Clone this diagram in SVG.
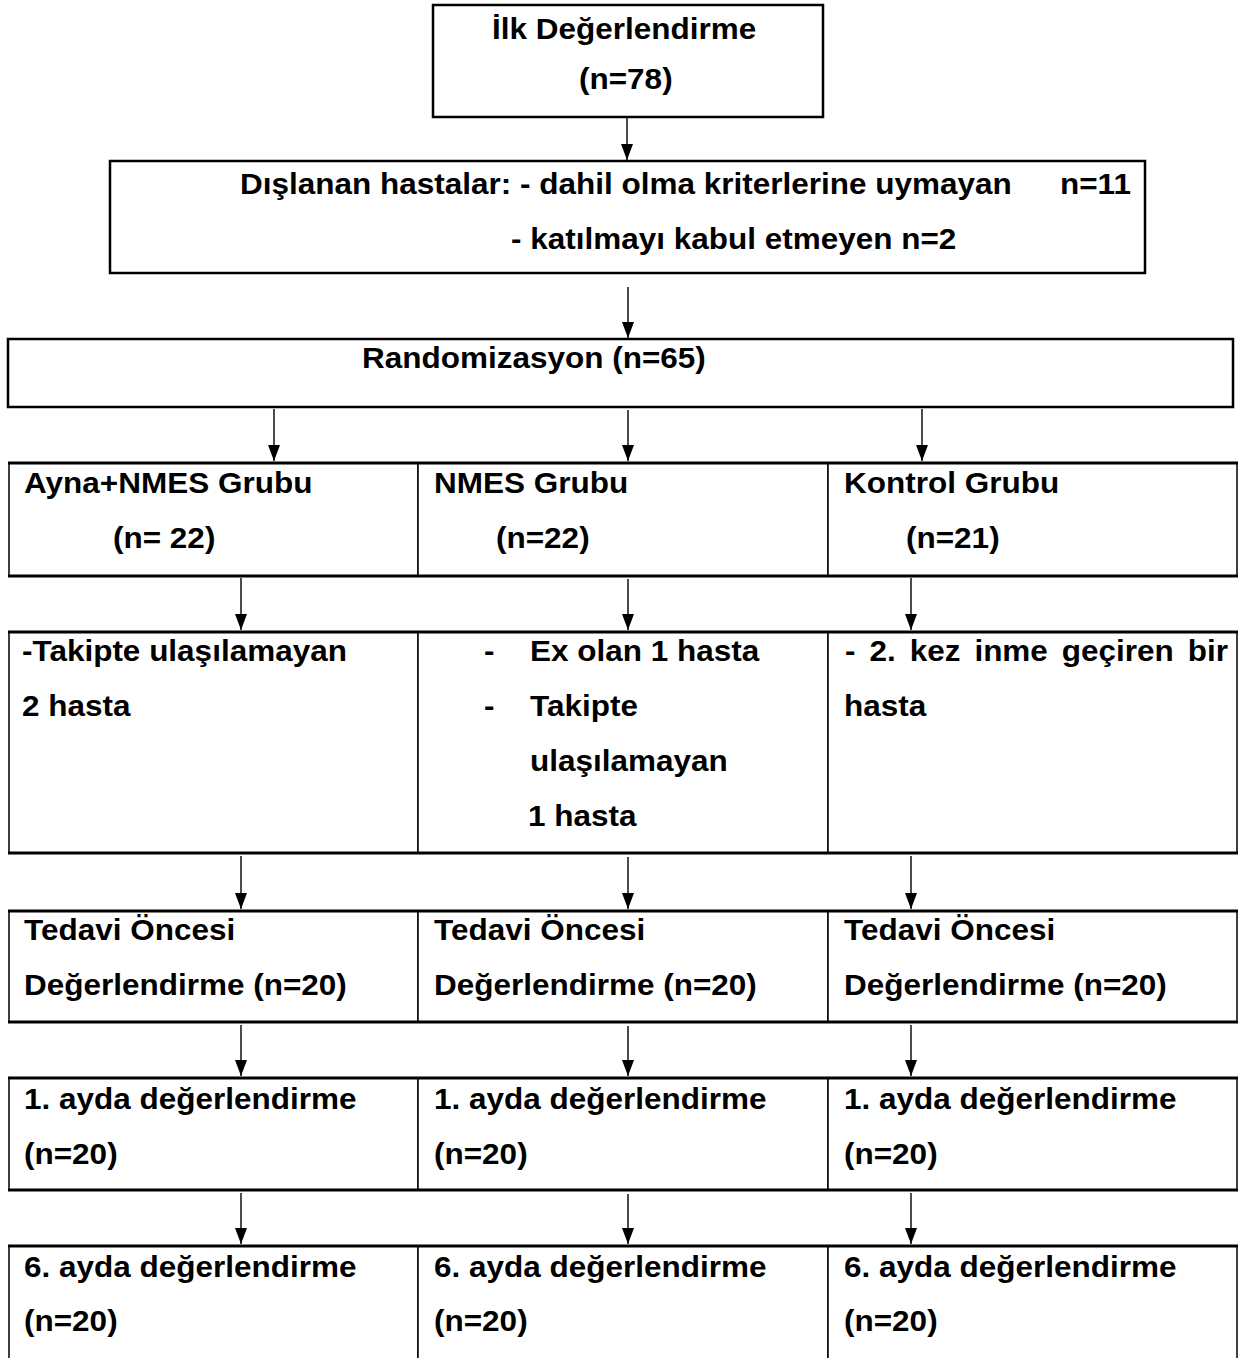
<svg xmlns="http://www.w3.org/2000/svg" width="1245" height="1358" viewBox="0 0 1245 1358">
<style>
  .t { font-family: "Liberation Sans", Arial, sans-serif; font-weight: bold; font-size: 29px; fill: #000; }
  .box { fill: #fff; stroke: #000; stroke-width: 2.5; }
  .cell { fill: #fff; stroke: #000; stroke-width: 1.5; }
  .hb { stroke: #000; stroke-width: 3; fill: none; }
  .arr { stroke: #000; stroke-width: 1.4; fill: none; marker-end: url(#ah); }
</style>
<defs>
  <marker id="ah" markerUnits="userSpaceOnUse" markerWidth="16" markerHeight="13" refX="16" refY="6.5" orient="auto">
    <path d="M0,0.5 L16,6.5 L0,12.5 z" fill="#000"/>
  </marker>
</defs>
<rect width="1245" height="1358" fill="#fff"/>

<g id="ilk">
  <rect class="box" x="433" y="5" width="390" height="112"/>
  <text class="t" transform="translate(492,39) scale(1.086,1)">İlk Değerlendirme</text>
  <text class="t" transform="translate(579,89) scale(1.086,1)">(n=78)</text>
</g>

<g id="dislanan">
  <rect class="box" x="110" y="161" width="1035" height="112"/>
  <text class="t" transform="translate(240,194) scale(1.086,1)">Dışlanan hastalar: - dahil olma kriterlerine uymayan</text>
  <text class="t" transform="translate(1060,194) scale(1.086,1)">n=11</text>
  <text class="t" transform="translate(511,249) scale(1.086,1)">- katılmayı kabul etmeyen n=2</text>
</g>

<g id="randomizasyon">
  <rect class="box" x="8" y="339" width="1225" height="68"/>
  <text class="t" transform="translate(362,368) scale(1.086,1)">Randomizasyon (n=65)</text>
</g>

<!-- Group row -->
<g id="grup-ayna">
  <rect class="cell" x="9" y="463" width="409" height="113"/>
  <text class="t" transform="translate(24,493) scale(1.086,1)">Ayna+NMES Grubu</text>
  <text class="t" transform="translate(113,548) scale(1.086,1)">(n= 22)</text>
</g>
<g id="grup-nmes">
  <rect class="cell" x="418" y="463" width="410" height="113"/>
  <text class="t" transform="translate(434,493) scale(1.086,1)">NMES Grubu</text>
  <text class="t" transform="translate(496,548) scale(1.086,1)">(n=22)</text>
</g>
<g id="grup-kontrol">
  <rect class="cell" x="828" y="463" width="409" height="113"/>
  <text class="t" transform="translate(844,493) scale(1.086,1)">Kontrol Grubu</text>
  <text class="t" transform="translate(906,548) scale(1.086,1)">(n=21)</text>
</g>

<!-- Dropout row -->
<g id="kayip-ayna">
  <rect class="cell" x="9" y="632" width="409" height="221"/>
  <text class="t" transform="translate(22,661) scale(1.086,1)">-Takipte ulaşılamayan</text>
  <text class="t" transform="translate(22,716) scale(1.086,1)">2 hasta</text>
</g>
<g id="kayip-nmes">
  <rect class="cell" x="418" y="632" width="410" height="221"/>
  <text class="t" transform="translate(484,661) scale(1.086,1)">-</text>
  <text class="t" transform="translate(530,661) scale(1.086,1)">Ex olan 1 hasta</text>
  <text class="t" transform="translate(484,716) scale(1.086,1)">-</text>
  <text class="t" transform="translate(530,716) scale(1.086,1)">Takipte</text>
  <text class="t" transform="translate(530,771) scale(1.086,1)">ulaşılamayan</text>
  <text class="t" transform="translate(528,826) scale(1.086,1)">1 hasta</text>
</g>
<g id="kayip-kontrol">
  <rect class="cell" x="828" y="632" width="409" height="221"/>
  <text class="t" word-spacing="4.8" transform="translate(845,661) scale(1.086,1)">- 2. kez inme geçiren bir</text>
  <text class="t" transform="translate(844,716) scale(1.086,1)">hasta</text>
</g>

<!-- Pre-treatment row -->
<g id="oncesi-ayna">
  <rect class="cell" x="9" y="911" width="409" height="111"/>
  <text class="t" transform="translate(24,940) scale(1.086,1)">Tedavi Öncesi</text>
  <text class="t" transform="translate(24,995) scale(1.086,1)">Değerlendirme (n=20)</text>
</g>
<g id="oncesi-nmes">
  <rect class="cell" x="418" y="911" width="410" height="111"/>
  <text class="t" transform="translate(434,940) scale(1.086,1)">Tedavi Öncesi</text>
  <text class="t" transform="translate(434,995) scale(1.086,1)">Değerlendirme (n=20)</text>
</g>
<g id="oncesi-kontrol">
  <rect class="cell" x="828" y="911" width="409" height="111"/>
  <text class="t" transform="translate(844,940) scale(1.086,1)">Tedavi Öncesi</text>
  <text class="t" transform="translate(844,995) scale(1.086,1)">Değerlendirme (n=20)</text>
</g>

<!-- 1st month row -->
<g id="ay1-ayna">
  <rect class="cell" x="9" y="1078" width="409" height="112"/>
  <text class="t" transform="translate(24,1109) scale(1.086,1)">1. ayda değerlendirme</text>
  <text class="t" transform="translate(24,1164) scale(1.086,1)">(n=20)</text>
</g>
<g id="ay1-nmes">
  <rect class="cell" x="418" y="1078" width="410" height="112"/>
  <text class="t" transform="translate(434,1109) scale(1.086,1)">1. ayda değerlendirme</text>
  <text class="t" transform="translate(434,1164) scale(1.086,1)">(n=20)</text>
</g>
<g id="ay1-kontrol">
  <rect class="cell" x="828" y="1078" width="409" height="112"/>
  <text class="t" transform="translate(844,1109) scale(1.086,1)">1. ayda değerlendirme</text>
  <text class="t" transform="translate(844,1164) scale(1.086,1)">(n=20)</text>
</g>

<!-- 6th month row -->
<g id="ay6-ayna">
  <rect class="cell" x="9" y="1246" width="409" height="116"/>
  <text class="t" transform="translate(24,1277) scale(1.086,1)">6. ayda değerlendirme</text>
  <text class="t" transform="translate(24,1331) scale(1.086,1)">(n=20)</text>
</g>
<g id="ay6-nmes">
  <rect class="cell" x="418" y="1246" width="410" height="116"/>
  <text class="t" transform="translate(434,1277) scale(1.086,1)">6. ayda değerlendirme</text>
  <text class="t" transform="translate(434,1331) scale(1.086,1)">(n=20)</text>
</g>
<g id="ay6-kontrol">
  <rect class="cell" x="828" y="1246" width="409" height="116"/>
  <text class="t" transform="translate(844,1277) scale(1.086,1)">6. ayda değerlendirme</text>
  <text class="t" transform="translate(844,1331) scale(1.086,1)">(n=20)</text>
</g>

<!-- thicker row borders -->
<g id="row-borders" class="hb">
  <path d="M8,463 H1238 M8,576 H1238"/>
  <path d="M8,632 H1238 M8,853 H1238"/>
  <path d="M8,911 H1238 M8,1022 H1238"/>
  <path d="M8,1078 H1238 M8,1190 H1238"/>
  <path d="M8,1246 H1238"/>
</g>

<g id="connectors">
  <line class="arr" x1="627" y1="118" x2="627" y2="160"/>
  <line class="arr" x1="628" y1="287" x2="628" y2="338"/>
  <line class="arr" x1="274" y1="409" x2="274" y2="461"/>
  <line class="arr" x1="628" y1="410" x2="628" y2="461"/>
  <line class="arr" x1="922" y1="409" x2="922" y2="461"/>
  <line class="arr" x1="241" y1="578" x2="241" y2="630"/>
  <line class="arr" x1="628" y1="579" x2="628" y2="630"/>
  <line class="arr" x1="911" y1="578" x2="911" y2="630"/>
  <line class="arr" x1="241" y1="856" x2="241" y2="909"/>
  <line class="arr" x1="628" y1="857" x2="628" y2="909"/>
  <line class="arr" x1="911" y1="856" x2="911" y2="909"/>
  <line class="arr" x1="241" y1="1025" x2="241" y2="1076"/>
  <line class="arr" x1="628" y1="1026" x2="628" y2="1076"/>
  <line class="arr" x1="911" y1="1025" x2="911" y2="1076"/>
  <line class="arr" x1="241" y1="1193" x2="241" y2="1244"/>
  <line class="arr" x1="628" y1="1194" x2="628" y2="1244"/>
  <line class="arr" x1="911" y1="1193" x2="911" y2="1244"/>
</g>
</svg>
